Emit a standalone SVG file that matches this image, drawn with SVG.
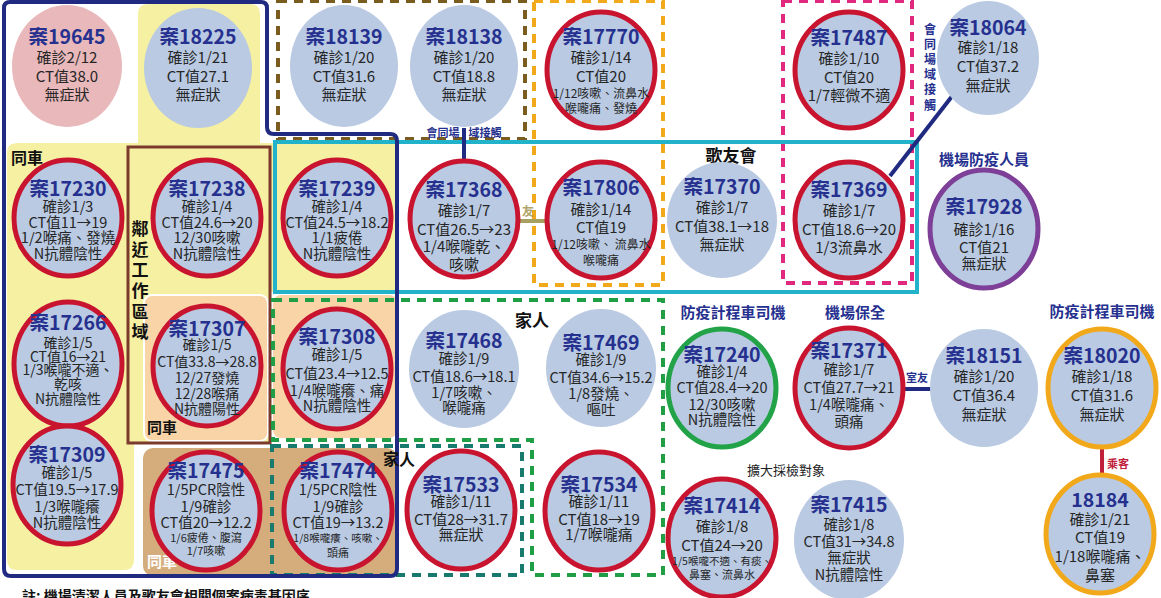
<svg xmlns="http://www.w3.org/2000/svg" width="1161" height="598" viewBox="0 0 1161 598">
<style>
text{font-family:"Noto Sans CJK TC","Noto Sans CJK JP",sans-serif;text-anchor:middle}
.c{fill:#b9cae2}
.pk{fill:#e9b8ba}
.r{fill:#b9cae2;stroke:#c8142f;stroke-width:5}
.g{fill:#b9cae2;stroke:#22a348;stroke-width:5}
.p{fill:#b9cae2;stroke:#7d3f98;stroke-width:5}
.o{fill:#b9cae2;stroke:#f2a81b;stroke-width:5}
.t{font-weight:700;fill:#25308f;font-size:19.5px}
.b{fill:#262626;font-size:14.5px}
.b1{fill:#262626;font-size:15px}
.s{fill:#262626;font-size:12px}
.xs{fill:#262626;font-size:10.5px}
.lab{font-weight:700;fill:#111;font-size:16px}
.nv{font-weight:700;fill:#25308f;font-size:15px}
.tiny{font-weight:700;fill:#25308f;font-size:11px}
.dash{fill:none;stroke-width:4;stroke-dasharray:9 7}
</style>
<g id="backgrounds">
<path d="M7,153 Q7,143 17,143 H138 V14 Q138,4 148,4 H250 Q260,4 260,14 V143 H397 V292 H270 V443 H134 V560 Q134,570 124,570 H17 Q7,570 7,560 Z" fill="#f6f0a3"/>
<rect x="144" y="295" width="124" height="146" rx="8" fill="#f9d4a6" stroke="#fff" stroke-width="2"/>
<rect x="273" y="295" width="124" height="143" rx="8" fill="#f9d4a6"/>
<rect x="143" y="448" width="254" height="128" rx="10" fill="#d5ad7d"/>
<rect x="128" y="147" width="142" height="296" fill="none" stroke="#7b3a2c" stroke-width="3"/>
</g>
<g id="groups">
<rect x="278" y="1" width="247" height="138" class="dash" stroke="#7a5c1e"/>
<rect x="534" y="1" width="129" height="284" class="dash" stroke="#f2a81b"/>
<rect x="783" y="1" width="129" height="282" class="dash" stroke="#e0287f" stroke-width="3.5"/>
<path d="M273,300 H663 V575 H532 V440 H273 Z" class="dash" stroke="#1f9e46" stroke-width="4.5"/>
<rect x="272" y="446" width="250" height="129" class="dash" stroke="#177a6c" stroke-width="4.5"/>
<rect x="275" y="142" width="642" height="150" fill="none" stroke="#22b2c9" stroke-width="4"/>
<path d="M4,8 Q4,2 10,2 H261 Q267,2 267,8 V127 Q267,134 274,134 H390 Q397,134 397,141 V569 Q397,576 390,576 H11 Q4,576 4,569 Z" fill="none" stroke="#1f2a80" stroke-width="4"/>
</g>
<g id="connectors">
<line x1="464" y1="128" x2="464" y2="160" stroke="#1f2a80" stroke-width="4"/>
<line x1="890" y1="176" x2="953" y2="95" stroke="#1f2a80" stroke-width="4"/>
<line x1="519" y1="221" x2="548" y2="221" stroke="#a8a060" stroke-width="4"/>
<line x1="905" y1="389" x2="931" y2="389" stroke="#1f2a80" stroke-width="4"/>
<line x1="1102" y1="449" x2="1102" y2="476" stroke="#c0203a" stroke-width="4"/>
</g>
<g id="labels">
<text x="11" y="164" class="lab" style="text-anchor:start">同車</text>
<text class="lab" style="font-size:17px"><tspan x="140" y="235">鄰</tspan><tspan x="140" y="256">近</tspan><tspan x="140" y="276">工</tspan><tspan x="140" y="297">作</tspan><tspan x="140" y="318">區</tspan><tspan x="140" y="338">域</tspan></text>
<text x="147" y="433" class="lab" style="text-anchor:start;font-size:15px">同車</text>
<text x="147" y="567" class="lab" style="text-anchor:start;font-size:15px;fill:#fff">同車</text>
<text x="532" y="327" class="lab" style="font-size:17px">家人</text>
<text x="399" y="465" class="lab">家人</text>
<text x="731" y="162" class="lab" style="font-size:17px">歌友會</text>
<text x="443" y="137" class="tiny">會同場</text>
<text x="485" y="137" class="tiny">域接觸</text>
<text class="tiny" style="font-size:12px"><tspan x="930" y="34">會</tspan><tspan x="930" y="49">同</tspan><tspan x="930" y="64">場</tspan><tspan x="930" y="79">域</tspan><tspan x="930" y="94">接</tspan><tspan x="930" y="110">觸</tspan></text>
<text x="528" y="216" style="font-size:12px;font-weight:700;fill:#b0a468">友</text>
<text x="984" y="165" class="nv">機場防疫人員</text>
<text x="733" y="318" class="nv">防疫計程車司機</text>
<text x="855" y="318" class="nv">機場保全</text>
<text x="1102" y="317" class="nv">防疫計程車司機</text>
<text x="917" y="382" class="tiny">室友</text>
<text x="1118" y="468" class="tiny" style="fill:#c0203a">乘客</text>
<text x="786" y="475" style="font-size:13px;fill:#222">擴大採檢對象</text>
<text x="22" y="601" class="lab" style="text-anchor:start;font-size:14px">註: 機場清潔人員及歌友會相關個案病毒基因序</text>
</g>
<g id="n19645"><ellipse cx="67" cy="66" rx="55" ry="61" class="pk"/><text x="67" y="44" class="t">案19645</text><text x="67" y="63" class="b1">確診2/12</text><text x="67" y="82" class="b1">CT值38.0</text><text x="67" y="100" class="b1">無症狀</text></g>
<g id="n18225"><ellipse cx="198" cy="68" rx="54" ry="60" class="c"/><text x="198" y="44" class="t">案18225</text><text x="198" y="63" class="b1">確診1/21</text><text x="198" y="82" class="b1">CT值27.1</text><text x="198" y="100" class="b1">無症狀</text></g>
<g id="n18139"><ellipse cx="344" cy="66" rx="54" ry="61" class="c"/><text x="344" y="44" class="t">案18139</text><text x="344" y="63" class="b1">確診1/20</text><text x="344" y="82" class="b1">CT值31.6</text><text x="344" y="100" class="b1">無症狀</text></g>
<g id="n18138"><ellipse cx="464" cy="66" rx="54" ry="61" class="c"/><text x="464" y="44" class="t">案18138</text><text x="464" y="63" class="b1">確診1/20</text><text x="464" y="82" class="b1">CT值18.8</text><text x="464" y="100" class="b1">無症狀</text></g>
<g id="n17770"><ellipse cx="601" cy="70" rx="54" ry="58" class="r"/><text x="601" y="44" class="t">案17770</text><text x="601" y="63" class="b1">確診1/14</text><text x="601" y="82" class="b1">CT值20</text><text x="601" y="98" class="s">1/12咳嗽、流鼻水</text><text x="601" y="113" class="s">喉嚨痛、發燒</text></g>
<g id="n17487"><ellipse cx="849" cy="70" rx="54" ry="58" class="r"/><text x="849" y="45" class="t">案17487</text><text x="849" y="64" class="b1">確診1/10</text><text x="849" y="83" class="b1">CT值20</text><text x="849" y="101" class="b1">1/7輕微不適</text></g>
<g id="n18064"><ellipse cx="988" cy="58" rx="51" ry="57" class="c"/><text x="988" y="35" class="t">案18064</text><text x="988" y="53" class="b1">確診1/18</text><text x="988" y="72" class="b1">CT值37.2</text><text x="988" y="91" class="b1">無症狀</text></g>
<g id="n17230"><ellipse cx="68" cy="218" rx="54" ry="58" class="r"/><text x="68" y="196" class="t">案17230</text><text x="68" y="212" class="b">確診1/3</text><text x="68" y="228" class="b">CT值11→19</text><text x="68" y="243" class="b">1/2喉痛、發燒</text><text x="68" y="259" class="b">N抗體陰性</text></g>
<g id="n17238"><ellipse cx="207" cy="218" rx="54" ry="58" class="r"/><text x="207" y="196" class="t">案17238</text><text x="207" y="212" class="b">確診1/4</text><text x="207" y="228" class="b">CT值24.6→20</text><text x="207" y="243" class="b">12/30咳嗽</text><text x="207" y="259" class="b">N抗體陰性</text></g>
<g id="n17239"><ellipse cx="337" cy="218" rx="54" ry="58" class="r"/><text x="337" y="196" class="t">案17239</text><text x="337" y="212" class="b">確診1/4</text><text x="337" y="228" class="b">CT值24.5→18.2</text><text x="337" y="243" class="b">1/1疲倦</text><text x="337" y="259" class="b">N抗體陰性</text></g>
<g id="n17368"><ellipse cx="464" cy="219" rx="54" ry="58" class="r"/><text x="464" y="197" class="t">案17368</text><text x="464" y="216" class="b1">確診1/7</text><text x="464" y="235" class="b1">CT值26.5→23</text><text x="464" y="252" class="b1">1/4喉嚨乾、</text><text x="464" y="270" class="b1">咳嗽</text></g>
<g id="n17806"><ellipse cx="601" cy="220" rx="54" ry="58" class="r"/><text x="601" y="195" class="t">案17806</text><text x="601" y="215" class="b1">確診1/14</text><text x="601" y="233" class="b1">CT值19</text><text x="601" y="249" class="s">1/12咳嗽、 流鼻水</text><text x="601" y="265" class="s">喉嚨痛</text></g>
<g id="n17370"><ellipse cx="722" cy="220" rx="55" ry="58" class="c"/><text x="722" y="194" class="t">案17370</text><text x="722" y="213" class="b1">確診1/7</text><text x="722" y="232" class="b1">CT值38.1→18</text><text x="722" y="250" class="b1">無症狀</text></g>
<g id="n17369"><ellipse cx="849" cy="220" rx="54" ry="58" class="r"/><text x="849" y="197" class="t">案17369</text><text x="849" y="216" class="b1">確診1/7</text><text x="849" y="235" class="b1">CT值18.6→20</text><text x="849" y="253" class="b1">1/3流鼻水</text></g>
<g id="n17928"><ellipse cx="984" cy="229" rx="54" ry="59" class="p"/><text x="984" y="214" class="t">案17928</text><text x="984" y="235" class="b1">確診1/16</text><text x="984" y="253" class="b1">CT值21</text><text x="984" y="269" class="b1">無症狀</text></g>
<g id="n17266"><ellipse cx="68" cy="364" rx="54" ry="62" class="r"/><text x="68" y="330" class="t">案17266</text><text x="68" y="348" class="b" style="font-size:14px">確診1/5</text><text x="68" y="362" class="b" style="font-size:14px">CT值16→21</text><text x="68" y="375" class="b" style="font-size:14px">1/3喉嚨不適、</text><text x="68" y="389" class="b" style="font-size:14px">乾咳</text><text x="68" y="404" class="b" style="font-size:14px">N抗體陰性</text></g>
<g id="n17307"><ellipse cx="207" cy="366" rx="54" ry="60" class="r"/><text x="207" y="336" class="t">案17307</text><text x="207" y="350" class="b" style="font-size:14px">確診1/5</text><text x="207" y="367" class="b" style="font-size:14px">CT值33.8→28.8</text><text x="207" y="383" class="b" style="font-size:14px">12/27發燒</text><text x="207" y="399" class="b" style="font-size:14px">12/28喉痛</text><text x="207" y="414" class="b" style="font-size:14px">N抗體陽性</text></g>
<g id="n17308"><ellipse cx="337" cy="369" rx="54" ry="60" class="r"/><text x="337" y="344" class="t">案17308</text><text x="337" y="360" class="b">確診1/5</text><text x="337" y="379" class="b">CT值23.4→12.5</text><text x="337" y="396" class="b">1/4喉嚨癢、痛</text><text x="337" y="411" class="b">N抗體陰性</text></g>
<g id="n17468"><ellipse cx="464" cy="369" rx="55" ry="59" class="c"/><text x="464" y="348" class="t">案17468</text><text x="464" y="364" class="b">確診1/9</text><text x="464" y="382" class="b">CT值18.6→18.1</text><text x="464" y="398" class="b">1/7咳嗽、</text><text x="464" y="413" class="b">喉嚨痛</text></g>
<g id="n17469"><ellipse cx="601" cy="368" rx="55" ry="59" class="c"/><text x="601" y="350" class="t">案17469</text><text x="601" y="365" class="b">確診1/9</text><text x="601" y="383" class="b">CT值34.6→15.2</text><text x="601" y="399" class="b">1/8發燒、</text><text x="601" y="415" class="b">嘔吐</text></g>
<g id="n17240"><ellipse cx="722" cy="388" rx="54" ry="59" class="g"/><text x="722" y="362" class="t">案17240</text><text x="722" y="377" class="b">確診1/4</text><text x="722" y="393" class="b">CT值28.4→20</text><text x="722" y="410" class="b">12/30咳嗽</text><text x="722" y="425" class="b">N抗體陰性</text></g>
<g id="n17371"><ellipse cx="849" cy="388" rx="54" ry="60" class="r"/><text x="849" y="358" class="t">案17371</text><text x="849" y="375" class="b">確診1/7</text><text x="849" y="393" class="b">CT值27.7→21</text><text x="849" y="410" class="b">1/4喉嚨痛、</text><text x="849" y="427" class="b">頭痛</text></g>
<g id="n18151"><ellipse cx="984" cy="388" rx="54" ry="59" class="c"/><text x="984" y="363" class="t">案18151</text><text x="984" y="382" class="b1">確診1/20</text><text x="984" y="401" class="b1">CT值36.4</text><text x="984" y="420" class="b1">無症狀</text></g>
<g id="n18020"><ellipse cx="1102" cy="388" rx="54" ry="59" class="o"/><text x="1102" y="363" class="t">案18020</text><text x="1102" y="382" class="b1">確診1/18</text><text x="1102" y="401" class="b1">CT值31.6</text><text x="1102" y="420" class="b1">無症狀</text></g>
<g id="n17309"><ellipse cx="67" cy="485" rx="54" ry="59" class="r"/><text x="67" y="462" class="t">案17309</text><text x="67" y="478" class="b">確診1/5</text><text x="67" y="495" class="b">CT值19.5→17.9</text><text x="67" y="512" class="b">1/3喉嚨癢</text><text x="67" y="528" class="b">N抗體陰性</text></g>
<g id="n17475"><ellipse cx="206" cy="511" rx="54" ry="59" class="r"/><text x="206" y="478" class="t">案17475</text><text x="206" y="495" class="b">1/5PCR陰性</text><text x="206" y="512" class="b">1/9確診</text><text x="206" y="528" class="b">CT值20→12.2</text><text x="206" y="542" class="xs" style="font-size:11px">1/6疲倦、腹瀉</text><text x="206" y="555" class="xs" style="font-size:11px">1/7咳嗽</text></g>
<g id="n17474"><ellipse cx="338" cy="511" rx="54" ry="59" class="r"/><text x="338" y="478" class="t">案17474</text><text x="338" y="495" class="b">1/5PCR陰性</text><text x="338" y="512" class="b">1/9確診</text><text x="338" y="528" class="b">CT值19→13.2</text><text x="338" y="542" class="xs">1/8喉嚨癢、咳嗽、</text><text x="338" y="557" class="xs" style="font-size:11px">頭痛</text></g>
<g id="n17533"><ellipse cx="461" cy="510" rx="54" ry="59" class="r"/><text x="461" y="492" class="t">案17533</text><text x="461" y="507" class="b1">確診1/11</text><text x="461" y="525" class="b1">CT值28→31.7</text><text x="461" y="540" class="b1">無症狀</text></g>
<g id="n17534"><ellipse cx="599" cy="511" rx="54" ry="59" class="r"/><text x="599" y="492" class="t">案17534</text><text x="599" y="507" class="b1">確診1/11</text><text x="599" y="525" class="b1">CT值18→19</text><text x="599" y="540" class="b1">1/7喉嚨痛</text></g>
<g id="n17414"><ellipse cx="722" cy="538" rx="54" ry="59" class="r"/><text x="722" y="513" class="t">案17414</text><text x="722" y="532" class="b1">確診1/8</text><text x="722" y="551" class="b1">CT值24→20</text><text x="722" y="565" class="xs">1/5喉嚨不適、有痰、</text><text x="722" y="579" class="xs" style="font-size:11px">鼻塞、流鼻水</text></g>
<g id="n17415"><ellipse cx="849" cy="540" rx="55" ry="60" class="c"/><text x="849" y="512" class="t">案17415</text><text x="849" y="530" class="b">確診1/8</text><text x="849" y="547" class="b">CT值31→34.8</text><text x="849" y="563" class="b">無症狀</text><text x="849" y="580" class="b">N抗體陰性</text></g>
<g id="n18184"><ellipse cx="1100" cy="534" rx="54" ry="59" class="o"/><text x="1100" y="507" class="t">18184</text><text x="1100" y="525" class="b1">確診1/21</text><text x="1100" y="543" class="b1">CT值19</text><text x="1100" y="562" class="b1">1/18喉嚨痛、</text><text x="1100" y="581" class="b1">鼻塞</text></g>
</svg>
